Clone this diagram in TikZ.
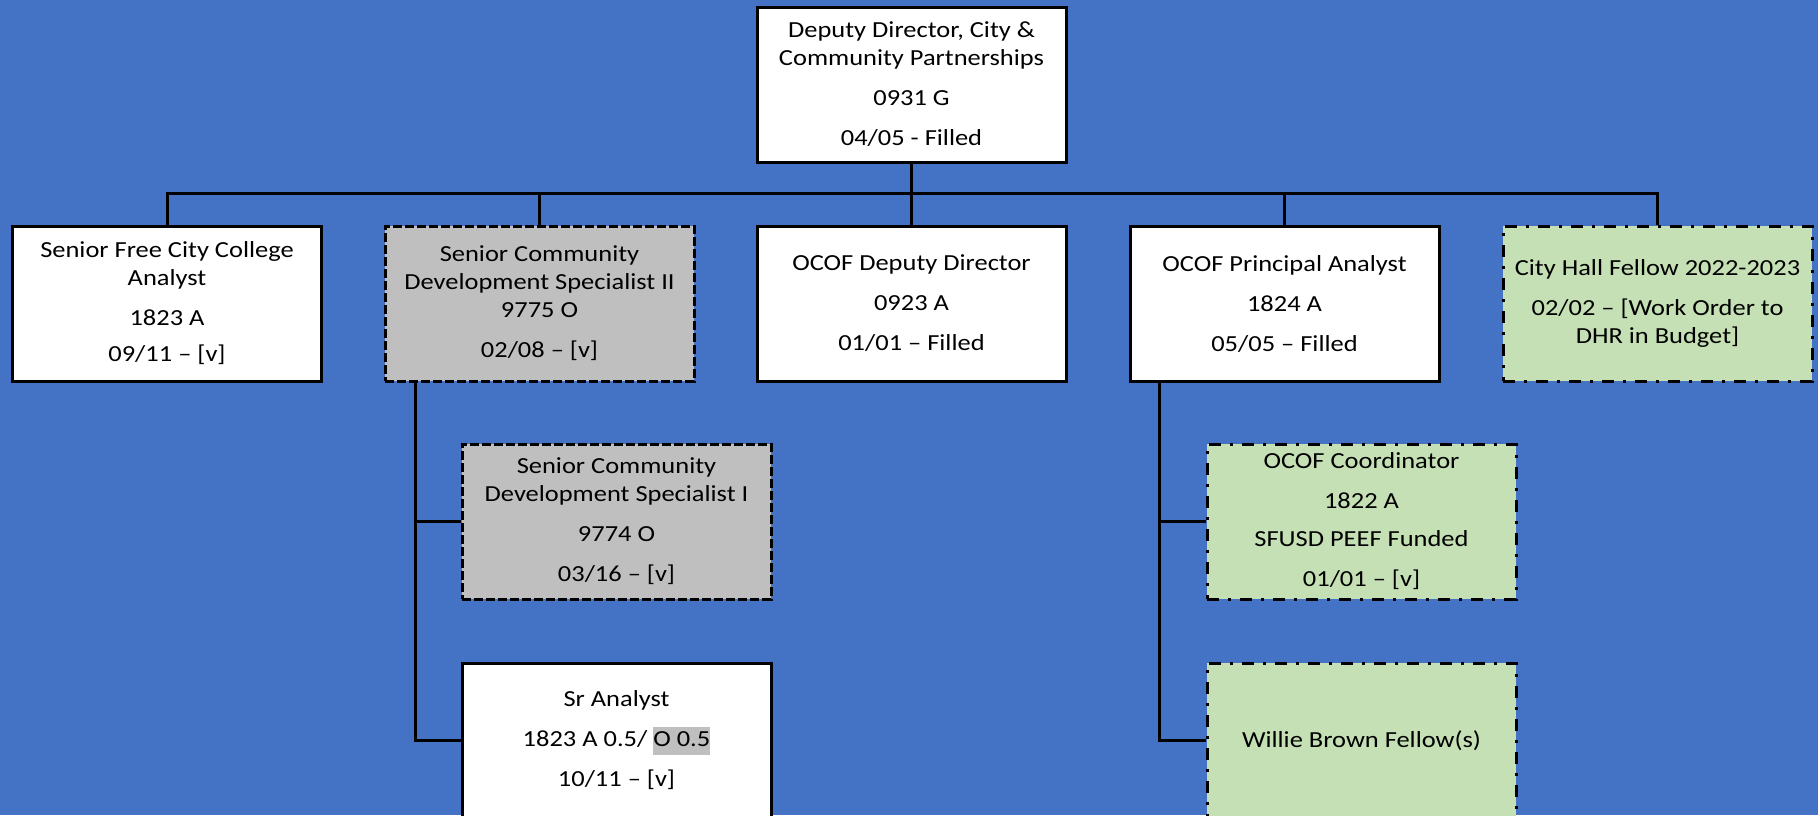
\documentclass[tikz,border=0pt]{standalone}
\usepackage{fontspec}
\setmainfont{Carlito}[FakeStretch=1.15]
\definecolor{bgblue}{HTML}{4472C4}
\definecolor{vacgray}{HTML}{BFBFBF}
\definecolor{fellowgreen}{HTML}{C5E0B4}
\tikzset{
  post/.style={draw=black, line width=1.5pt, fill=white, minimum width=154.5pt,
    minimum height=77.5pt, inner sep=0pt, align=center,
    font=\fontsize{11.5}{14}\selectfont},
  vacant/.style={post, fill=vacgray, dash pattern=on 4.5pt off 1.5pt},
  fellow/.style={post, fill=fellowgreen, dash pattern=on 6pt off 4.5pt on 1.5pt off 4.5pt},
  link/.style={draw=black, line width=1.5pt}
}
\begin{document}
\begin{tikzpicture}[x=0.5pt, y=-0.5pt]
      \fill[bgblue] (0,0) rectangle (1818,815);
      \useasboundingbox (0,0) rectangle (1818,815);
      \clip (0,0) rectangle (1818,815);
      \node[post] (dir) at (911.5,84.5)
        {Deputy Director, City \&\\Community Partnerships\\[6pt]0931 G\\[6pt]04/05 - Filled};
      \node[post] (fcc) at (167,303.5)
        {Senior Free City College\\Analyst\\[6pt]1823 A\\[4pt]09/11 – [v]};
      \node[vacant] (cds2) at (539.5,303.5)
        {Senior Community\\Development Specialist II\\9775 O\\[6pt]02/08 – [v]};
      \node[post] (dep) at (911.5,303.5)
        {OCOF Deputy Director\\[6pt]0923 A\\[6pt]01/01 – Filled};
      \node[post] (pa) at (1284.5,303.5)
        {OCOF Principal Analyst\\[6pt]1824 A\\[6pt]05/05 – Filled};
      \node[fellow] (chf) at (1657.5,303.5)
        {City Hall Fellow 2022-2023\\[6pt]02/02 – [Work Order to\\DHR in Budget]};
      \node[vacant] (cds1) at (616.5,521.5)
        {Senior Community\\Development Specialist I\\[6pt]9774 O\\[6pt]03/16 – [v]};
      \node[post] (sra) at (616.5,740.5)
        {Sr Analyst\\[6pt]1823 A 0.5/ {\setlength{\fboxsep}{0pt}\colorbox{vacgray}{\strut O 0.5}}\\[6pt]10/11 – [v]};
      \node[fellow] (coord) at (1361.5,521.5)
        {OCOF Coordinator\\[6pt]1822 A\\[5pt]SFUSD PEEF Funded\\[6pt]01/01 – [v]};
      \node[fellow] (wbf) at (1361.5,740.5)
        {Willie Brown Fellow(s)};
      \coordinate (bus) at (911.5,193);
      \coordinate (cds2spine) at ([xshift=16pt]cds2.south west);
      \coordinate (paspine) at ([xshift=15.5pt]pa.south west);
      \begin{scope}[link]
        \draw (dir) -- (bus);
        \draw (bus) -| (fcc);
        \draw (bus) -| (cds2);
        \draw (bus) -- (dep);
        \draw (bus) -| (pa);
        \draw (bus) -| (chf);
        \draw (cds2spine) |- (cds1.west);
        \draw (cds2spine) |- (sra.west);
        \draw (paspine) |- (coord.west);
        \draw (paspine) |- (wbf.west);
      \end{scope}
    \end{tikzpicture}
\end{document}
